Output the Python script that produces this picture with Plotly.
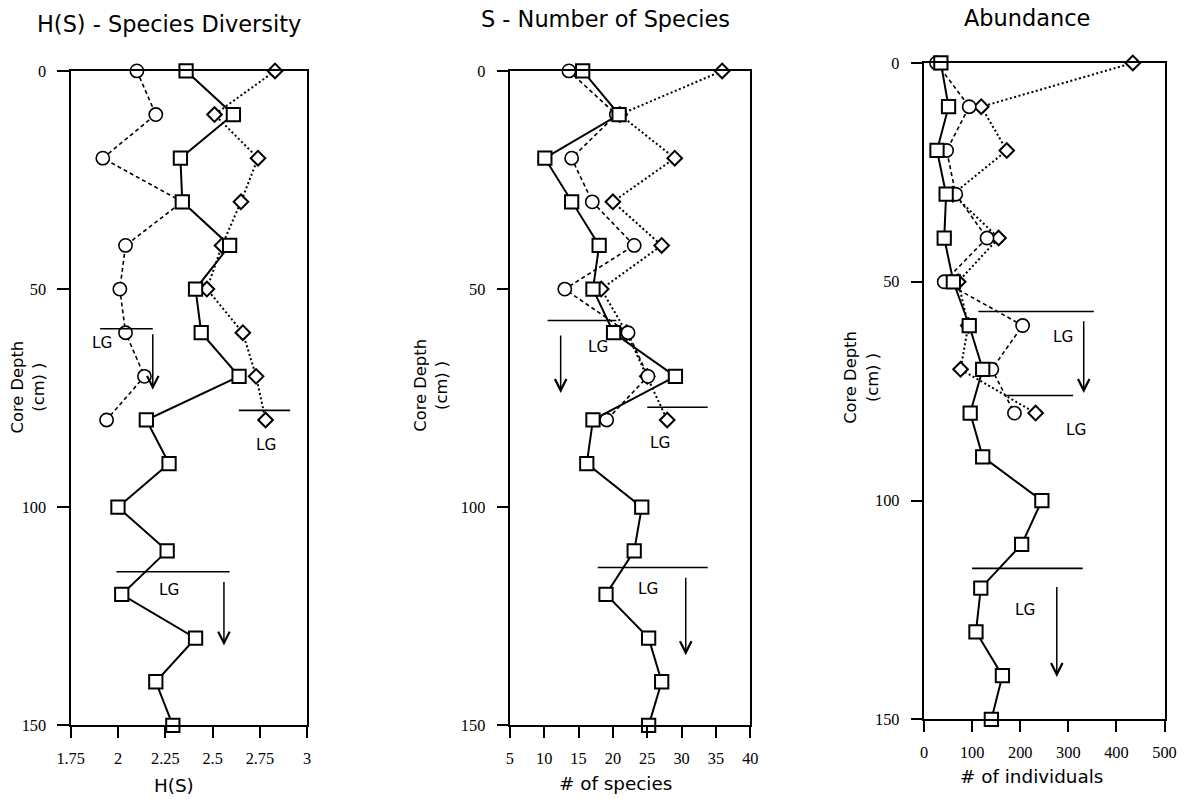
import plotly.graph_objects as go

# ---------------- data ----------------
depth_full = [0, 10, 20, 30, 40, 50, 60, 70, 80, 90, 100, 110, 120, 130, 140, 150]
depth_short = [0, 10, 20, 30, 40, 50, 60, 70, 80]

hs_square = [2.36, 2.61, 2.33, 2.34, 2.59, 2.41, 2.44, 2.64, 2.15, 2.27, 2.00, 2.26, 2.02, 2.41, 2.20, 2.29]
hs_circle = [2.10, 2.20, 1.92, 2.34, 2.04, 2.01, 2.04, 2.14, 1.94]
hs_diamond = [2.83, 2.51, 2.74, 2.65, 2.55, 2.47, 2.66, 2.73, 2.78]

s_square = [15.6, 20.9, 10.1, 14.0, 18.0, 17.1, 20.1, 29.1, 17.1, 16.2, 24.2, 23.1, 19.0, 25.2, 27.1, 25.2]
s_circle = [13.6, 20.5, 14.0, 17.0, 23.1, 13.0, 22.2, 25.1, 19.1]
s_diamond = [35.9, 21.0, 29.0, 20.0, 27.1, 18.3, 22.0, 25.0, 27.9]

ab_square = [35, 51, 27, 46, 42, 61, 94, 122, 96, 122, 245, 203, 118, 108, 163, 140]
ab_circle = [26, 94, 47, 66, 131, 42, 205, 141, 188]
ab_diamond = [434, 119, 172, 60, 155, 71, 92, 76, 232]

titles = ["H(S) - Species Diversity", "S - Number of Species", "Abundance"]
x_titles = ["H(S)", "# of species", "# of individuals"]
y_title = "Core Depth<br>(cm) )"

x_ranges = [[1.75, 3.0], [5, 40], [0, 500]]
x_tickvals = [[1.75, 2, 2.25, 2.5, 2.75, 3], [5, 10, 15, 20, 25, 30, 35, 40], [0, 100, 200, 300, 400, 500]]
x_ticktext = [["1.75", "2", "2.25", "2.5", "2.75", "3"],
              ["5", "10", "15", "20", "25", "30", "35", "40"],
              ["0", "100", "200", "300", "400", "500"]]
y_tickvals = [0, 50, 100, 150]

# LG boundary markers: (x_start, x_end, depth)
lg_lines = [
    [(1.906, 2.184, 59.1), (2.639, 2.910, 77.8), (1.992, 2.590, 114.8)],
    [(10.5, 20.5, 57.2), (25.0, 33.8, 77.1), (17.8, 33.8, 113.8)],
    [(113, 353, 56.8), (171, 310, 76.0), (100, 330, 115.5)],
]
lg_texts = [
    [(1.917, 62.3), (2.781, 85.8), (2.271, 118.9)],
    [(17.8, 63.2), (26.9, 85.2), (25.1, 118.7)],
    [(288, 62.7), (315, 83.8), (209, 125.1)],
]
# arrows: (x, depth_start, depth_end)
lg_arrows = [
    [(2.184, 60.0, 73.1), (2.560, 116.8, 131.7)],
    [(12.4, 60.3, 73.8), (30.6, 115.8, 133.9)],
    [(332, 58.7, 75.4), (276, 119.4, 140.3)],
]

# ---------------- figure ----------------
W, H = 1188, 799
BODY = 8          # default page margin
SC = 0.98         # observed capture scale
OX = 4.4          # observed horizontal centering offset
K = 1 / SC        # size compensation

def fx(s):
    return ((s - OX) / SC - BODY) / W
def fy(s):
    return 1 - (s / SC - BODY) / H

panels_px = [  # left, right, top, bottom (target screen px)
    (69, 306, 70, 727),
    (509, 750, 70, 727),
    (924, 1165, 62, 721),
]
title_pos = [(168, 23), (605, 18), (1027, 17)]
xtitle_pos = [(173, 787), (615, 785), (1032, 778)]
ytitle_pos = [(26, 387), (430, 385), (861, 378)]

series = [
    (hs_square, hs_circle, hs_diamond),
    (s_square, s_circle, s_diamond),
    (ab_square, ab_circle, ab_diamond),
]

fig = go.Figure()
for i, (sq, ci, di) in enumerate(series):
    xa = "x" if i == 0 else f"x{i+1}"
    ya = "y" if i == 0 else f"y{i+1}"
    fig.add_trace(go.Scatter(
        x=di, y=depth_short, xaxis=xa, yaxis=ya, mode="lines+markers",
        line=dict(color="black", width=2, dash="2px,2.5px"),
        marker=dict(symbol="diamond", size=11 * K, color="white", line=dict(color="black", width=2)),
        cliponaxis=False, showlegend=False))
    fig.add_trace(go.Scatter(
        x=ci, y=depth_short, xaxis=xa, yaxis=ya, mode="lines+markers",
        line=dict(color="black", width=1.6, dash="4px,3px"),
        marker=dict(symbol="circle", size=13 * K, color="white", line=dict(color="black", width=1.6)),
        cliponaxis=False, showlegend=False))
    fig.add_trace(go.Scatter(
        x=sq, y=depth_full, xaxis=xa, yaxis=ya, mode="lines+markers",
        line=dict(color="black", width=2),
        marker=dict(symbol="square", size=13 * K, color="white", line=dict(color="black", width=2)),
        cliponaxis=False, showlegend=False))

layout = dict(
    width=W, height=H, margin=dict(l=0, r=0, t=0, b=0),
    paper_bgcolor="white", plot_bgcolor="white", showlegend=False,
)
shapes = []
annotations = []
for i in range(3):
    l, r, t, b = panels_px[i]
    xk = "xaxis" if i == 0 else f"xaxis{i+1}"
    yk = "yaxis" if i == 0 else f"yaxis{i+1}"
    xa = "x" if i == 0 else f"x{i+1}"
    ya = "y" if i == 0 else f"y{i+1}"
    layout[xk] = dict(
        domain=[fx(l), fx(r)], anchor=ya, range=x_ranges[i],
        tickmode="array", tickvals=x_tickvals[i], ticktext=x_ticktext[i],
        ticks="outside", ticklen=10 * K, tickwidth=2, tickcolor="black",
        showline=True, linewidth=2, linecolor="black", mirror=True,
        showgrid=False, zeroline=False, ticklabelstandoff=7,
        tickfont=dict(family="Liberation Serif", size=16 * K, color="black"),
    )
    layout[yk] = dict(
        domain=[fy(b), fy(t)], anchor=xa, range=[150, 0],
        tickmode="array", tickvals=y_tickvals,
        ticks="outside", ticklen=11 * K, tickwidth=2, tickcolor="black",
        showline=True, linewidth=2, linecolor="black", mirror=True,
        showgrid=False, zeroline=False, ticklabelstandoff=8,
        tickfont=dict(family="Liberation Serif", size=16 * K, color="black"),
    )
    # titles
    tx, ty = title_pos[i]
    annotations.append(dict(text=titles[i], x=fx(tx), y=fy(ty), xref="paper", yref="paper",
                            xanchor="center", yanchor="middle", showarrow=False,
                            font=dict(family="DejaVu Sans", size=22 * K, color="black")))
    tx, ty = xtitle_pos[i]
    annotations.append(dict(text=x_titles[i], x=fx(tx), y=fy(ty), xref="paper", yref="paper",
                            xanchor="center", yanchor="middle", showarrow=False,
                            font=dict(family="DejaVu Sans", size=18 * K, color="black")))
    tx, ty = ytitle_pos[i]
    annotations.append(dict(text=y_title, x=fx(tx), y=fy(ty), xref="paper", yref="paper",
                            xanchor="center", yanchor="middle", showarrow=False, textangle=-90,
                            font=dict(family="DejaVu Sans", size=16 * K, color="black")))
    # LG lines
    for (x0, x1, d) in lg_lines[i]:
        shapes.append(dict(type="line", xref=xa, yref=ya, x0=x0, x1=x1, y0=d, y1=d,
                           line=dict(color="black", width=1.6)))
    for (xt, d) in lg_texts[i]:
        annotations.append(dict(text="LG", x=xt, y=d, xref=xa, yref=ya, showarrow=False,
                                xanchor="center", yanchor="middle",
                                font=dict(family="DejaVu Sans", size=15 * K, color="black")))
    for (xa_v, d0, d1) in lg_arrows[i]:
        annotations.append(dict(text="", x=xa_v, y=d1, ax=xa_v, ay=d0, xref=xa, yref=ya,
                                axref=xa, ayref=ya, showarrow=True, arrowhead=5,
                                arrowsize=1.5, arrowwidth=1.5, arrowcolor="black"))

layout["shapes"] = shapes
layout["annotations"] = annotations
fig.update_layout(**layout)
fig.write_html("out.html")
